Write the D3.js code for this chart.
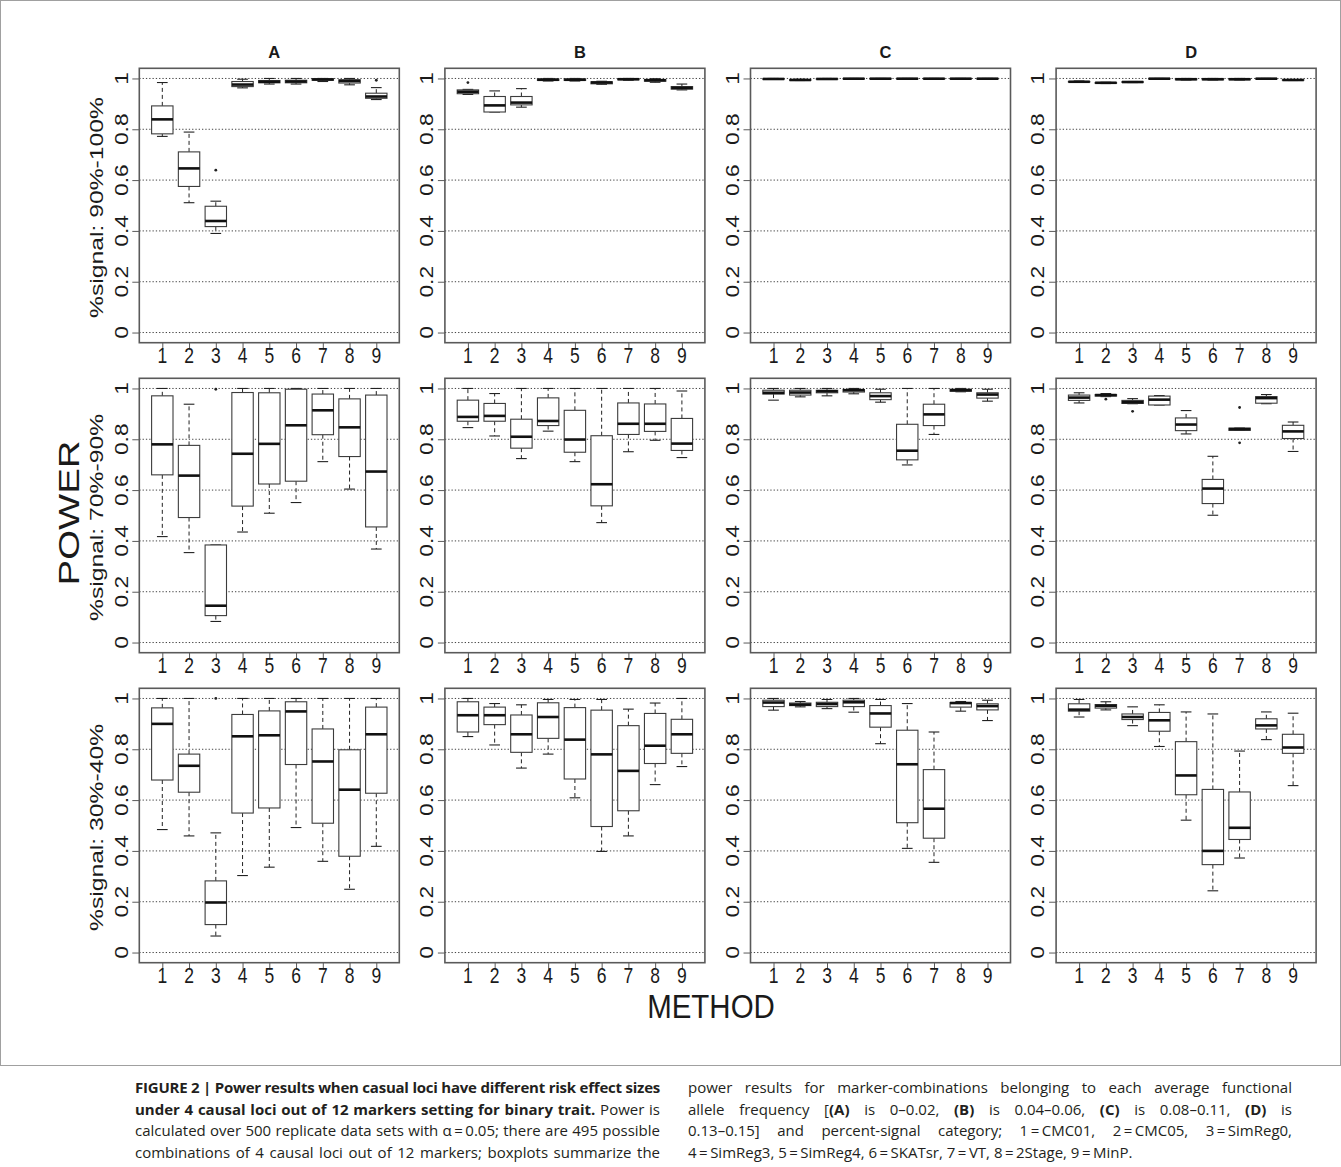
<!DOCTYPE html>
<html>
<head>
<meta charset="utf-8">
<script src="https://cdn.jsdelivr.net/npm/d3@7"></script>
<style>
  body { margin: 0; background: #fff; }
  svg { display: block; }
  text { font-family: "Liberation Sans", Arial, Helvetica, sans-serif; }
  text.cap { font-family: "Open Sans", "Liberation Sans", Arial, sans-serif; }
</style>
</head>
<body>
<svg id="fig" width="1341" height="1167"></svg>
<script>
// ---- data: five-number summaries [lower whisker, Q1, median, Q3, upper whisker] per method ----
const methods = [1, 2, 3, 4, 5, 6, 7, 8, 9];
const yTicks = [0, 0.2, 0.4, 0.6, 0.8, 1];
const yTickLabels = ["0", "0.2", "0.4", "0.6", "0.8", "1"];
const panelLetters = ["A", "B", "C", "D"];
const rowLabels = ["%signal: 90%-100%", "%signal: 70%-90%", "%signal: 30%-40%"];

// %signal 90%-100%
const sig90A = [
  [0.772, 0.782, 0.839, 0.892, 0.984],
  [0.511, 0.575, 0.646, 0.711, 0.789],
  [0.390, 0.417, 0.439, 0.497, 0.517],
  [0.963, 0.968, 0.976, 0.988, 0.997],
  [0.978, 0.983, 0.987, 0.992, 1.000],
  [0.978, 0.983, 0.988, 0.993, 1.000],
  [0.988, 0.993, 0.996, 0.999, 1.000],
  [0.975, 0.982, 0.990, 0.995, 1.000],
  [0.917, 0.922, 0.929, 0.942, 0.964]
];
const sig90B = [
  [0.937, 0.940, 0.948, 0.955, 0.957],
  [0.868, 0.868, 0.894, 0.929, 0.951],
  [0.887, 0.896, 0.905, 0.929, 0.960],
  [0.990, 0.992, 0.995, 0.998, 1.000],
  [0.990, 0.992, 0.995, 0.998, 1.000],
  [0.977, 0.979, 0.984, 0.987, 0.989],
  [0.993, 0.995, 0.997, 0.999, 1.000],
  [0.985, 0.989, 0.993, 0.996, 0.999],
  [0.955, 0.958, 0.963, 0.968, 0.978]
];
const sig90C = [
  [0.996, 0.997, 0.998, 0.999, 1.000],
  [0.992, 0.993, 0.994, 0.995, 0.997],
  [0.997, 0.998, 0.998, 0.999, 1.000],
  [0.998, 0.999, 0.999, 1.000, 1.000],
  [0.998, 0.999, 0.999, 1.000, 1.000],
  [0.997, 0.998, 0.999, 1.000, 1.000],
  [0.997, 0.998, 0.999, 1.000, 1.000],
  [0.998, 0.999, 0.999, 1.000, 1.000],
  [0.998, 0.999, 0.999, 1.000, 1.000]
];
const sig90D = [
  [0.985, 0.986, 0.987, 0.988, 0.990],
  [0.980, 0.981, 0.983, 0.984, 0.985],
  [0.984, 0.985, 0.986, 0.987, 0.988],
  [0.998, 0.999, 0.999, 1.000, 1.000],
  [0.994, 0.995, 0.997, 0.999, 1.000],
  [0.994, 0.995, 0.997, 0.999, 1.000],
  [0.994, 0.995, 0.997, 0.999, 1.000],
  [0.998, 0.999, 0.999, 1.000, 1.000],
  [0.992, 0.993, 0.994, 0.995, 0.996]
];

// %signal 70%-90%
const sig70A = [
  [0.417, 0.660, 0.780, 0.971, 1.000],
  [0.354, 0.492, 0.657, 0.776, 0.938],
  [0.083, 0.106, 0.145, 0.384, 0.384],
  [0.435, 0.537, 0.743, 0.984, 1.000],
  [0.509, 0.624, 0.782, 0.983, 1.000],
  [0.551, 0.635, 0.855, 0.997, 1.000],
  [0.712, 0.818, 0.914, 0.978, 1.000],
  [0.604, 0.732, 0.847, 0.959, 1.000],
  [0.368, 0.455, 0.673, 0.974, 1.000]
];
const sig70B = [
  [0.846, 0.871, 0.888, 0.954, 1.000],
  [0.813, 0.871, 0.892, 0.941, 0.980],
  [0.724, 0.765, 0.810, 0.879, 1.000],
  [0.832, 0.854, 0.872, 0.963, 1.000],
  [0.712, 0.749, 0.799, 0.914, 1.000],
  [0.472, 0.538, 0.623, 0.814, 1.000],
  [0.751, 0.819, 0.861, 0.943, 1.000],
  [0.796, 0.831, 0.861, 0.939, 1.000],
  [0.728, 0.756, 0.783, 0.882, 0.990]
];
const sig70C = [
  [0.954, 0.978, 0.983, 0.993, 1.000],
  [0.967, 0.974, 0.984, 0.993, 1.000],
  [0.971, 0.983, 0.989, 0.993, 1.000],
  [0.979, 0.986, 0.993, 0.996, 1.000],
  [0.946, 0.956, 0.970, 0.983, 0.997],
  [0.699, 0.719, 0.755, 0.859, 1.000],
  [0.819, 0.854, 0.898, 0.938, 1.000],
  [0.987, 0.989, 0.993, 0.997, 1.000],
  [0.950, 0.962, 0.976, 0.983, 0.997]
];
const sig70D = [
  [0.943, 0.953, 0.964, 0.974, 0.983],
  [0.968, 0.970, 0.974, 0.976, 0.980],
  [0.940, 0.941, 0.946, 0.953, 0.960],
  [0.935, 0.935, 0.956, 0.970, 0.972],
  [0.821, 0.834, 0.858, 0.884, 0.913],
  [0.501, 0.547, 0.606, 0.642, 0.733],
  [0.835, 0.835, 0.840, 0.844, 0.844],
  [0.940, 0.942, 0.962, 0.968, 0.976],
  [0.752, 0.803, 0.831, 0.855, 0.868]
];

// %signal 30%-40%
const sig30A = [
  [0.484, 0.679, 0.900, 0.963, 1.000],
  [0.459, 0.631, 0.735, 0.781, 1.000],
  [0.065, 0.110, 0.197, 0.282, 0.471],
  [0.303, 0.549, 0.851, 0.937, 1.000],
  [0.336, 0.569, 0.855, 0.951, 1.000],
  [0.492, 0.740, 0.949, 0.987, 1.000],
  [0.359, 0.509, 0.752, 0.880, 1.000],
  [0.249, 0.379, 0.641, 0.798, 1.000],
  [0.418, 0.627, 0.859, 0.966, 1.000]
];
const sig30B = [
  [0.850, 0.868, 0.934, 0.987, 1.000],
  [0.817, 0.897, 0.934, 0.966, 0.980],
  [0.726, 0.788, 0.859, 0.935, 0.975],
  [0.781, 0.843, 0.927, 0.983, 0.996],
  [0.609, 0.683, 0.838, 0.964, 0.996],
  [0.398, 0.496, 0.780, 0.954, 0.996],
  [0.459, 0.558, 0.715, 0.893, 0.958],
  [0.661, 0.744, 0.814, 0.941, 0.982],
  [0.732, 0.784, 0.859, 0.918, 1.000]
];
const sig30C = [
  [0.954, 0.968, 0.984, 0.993, 1.000],
  [0.967, 0.972, 0.976, 0.982, 0.988],
  [0.960, 0.968, 0.978, 0.985, 0.996],
  [0.946, 0.968, 0.985, 0.993, 1.000],
  [0.822, 0.887, 0.941, 0.972, 0.996],
  [0.410, 0.511, 0.741, 0.875, 0.980],
  [0.355, 0.450, 0.566, 0.720, 0.868],
  [0.950, 0.966, 0.982, 0.984, 0.988],
  [0.913, 0.955, 0.970, 0.979, 0.993]
];
const sig30D = [
  [0.927, 0.950, 0.956, 0.979, 0.996],
  [0.955, 0.962, 0.971, 0.976, 0.987],
  [0.893, 0.917, 0.927, 0.939, 0.967],
  [0.811, 0.871, 0.914, 0.945, 0.975],
  [0.521, 0.621, 0.697, 0.830, 0.947],
  [0.243, 0.346, 0.400, 0.642, 0.939],
  [0.372, 0.445, 0.491, 0.632, 0.793],
  [0.838, 0.880, 0.894, 0.920, 0.947],
  [0.657, 0.784, 0.807, 0.859, 0.942]
];

// outlying points: [method, power]
const out90A = [[3, 0.639], [9, 0.993]];
const out90B = [[1, 0.984]];
const out70A = [[3, 0.997]];
const out70D = [[2, 0.958], [3, 0.910], [7, 0.925], [7, 0.786]];
const out30A = [[3, 1.0]];

const grid = [
  [sig90A, sig90B, sig90C, sig90D],
  [sig70A, sig70B, sig70C, sig70D],
  [sig30A, sig30B, sig30C, sig30D]
];
const outGrid = [
  [out90A, out90B, [], []],
  [out70A, [], [], out70D],
  [out30A, [], [], []]
];

// caption lines: runs of [text, bold]
const captionLeft = [
  [["FIGURE 2 | Power results when casual loci have different risk effect sizes", true]],
  [["under 4 causal loci out of 12 markers setting for binary trait.", true], [" Power is", false]],
  [["calculated over 500 replicate data sets with \u03b1\u2009=\u20090.05; there are 495 possible", false]],
  [["combinations of 4 causal loci out of 12 markers; boxplots summarize the", false]]
];
const captionRight = [
  [["power results for marker-combinations belonging to each average functional", false]],
  [["allele frequency [", false], ["(A)", true], [" is 0\u20130.02, ", false], ["(B)", true], [" is 0.04\u20130.06, ", false],
   ["(C)", true], [" is 0.08\u20130.11, ", false], ["(D)", true], [" is", false]],
  [["0.13\u20130.15] and percent-signal category; 1\u2009=\u2009CMC01, 2\u2009=\u2009CMC05, 3\u2009=\u2009SimReg0,", false]],
  [["4\u2009=\u2009SimReg3, 5\u2009=\u2009SimReg4, 6\u2009=\u2009SKATsr, 7\u2009=\u2009VT, 8\u2009=\u20092Stage, 9\u2009=\u2009MinP.", false]]
];

// ---- layout ----
const svg = d3.select("#fig");
const PW = 260, PH = 274.4;
const colLeft = c => 139.3 + c * 305.6;
const rowTop = r => 68.3 + r * 310;
const STRETCH = 1.3;          // plot lettering is taller than it is wide
const frameColor = "#5a5a5a";

svg.append("rect")
  .attr("x", 0.5).attr("y", 0.5).attr("width", 1340).attr("height", 1065)
  .attr("fill", "none").attr("stroke", "#a0a0a0").attr("stroke-width", 1);

function hText(g, x, y, str, size, opts = {}) {
  return g.append("text")
    .attr("transform", `translate(${x},${y}) scale(1,${opts.k ?? STRETCH})`)
    .attr("text-anchor", "middle").attr("dy", "0.36em")
    .attr("font-size", size).attr("font-weight", opts.bold ? "bold" : null)
    .attr("fill", opts.fill || "#1a1a1a")
    .text(str);
}
function vText(g, x, y, str, size, opts = {}) {
  return g.append("text")
    .attr("transform", `translate(${x},${y}) rotate(-90) scale(${opts.k ?? STRETCH},1)`)
    .attr("text-anchor", "middle").attr("dy", "0.36em")
    .attr("font-size", size)
    .attr("fill", opts.fill || "#1a1a1a")
    .text(str);
}

function drawPanel(r, c) {
  const left = colLeft(c), top = rowTop(r);
  const x = d3.scaleLinear().domain([0.14, 9.86]).range([left, left + PW]);
  const y = d3.scaleLinear().domain([-0.04, 1.04]).range([top + PH, top]);
  const g = svg.append("g");
  const stats = grid[r][c];
  const bw = 0.8, sw = 0.4;

  // dotted reference lines
  g.selectAll("line.grid").data(yTicks).join("line")
    .attr("x1", left).attr("x2", left + PW)
    .attr("y1", d => y(d)).attr("y2", d => y(d))
    .attr("stroke", "#444").attr("stroke-width", 1).attr("stroke-dasharray", "1.3,2");

  // y axis
  const yAxis = d3.axisLeft(y).tickValues(yTicks).tickSize(7).tickFormat(() => "");
  const ya = g.append("g").attr("transform", `translate(${left},0)`).call(yAxis);
  ya.select(".domain").remove();
  ya.selectAll("line").attr("stroke", frameColor);
  yTicks.forEach((t, i) => vText(g, left - 18, y(t), yTickLabels[i], 17.5));

  // x axis
  const xAxis = d3.axisBottom(x).tickValues(methods).tickSize(7).tickFormat(() => "");
  const xa = g.append("g").attr("transform", `translate(0,${top + PH})`).call(xAxis);
  xa.select(".domain").remove();
  xa.selectAll("line").attr("stroke", frameColor);
  methods.forEach(m => hText(g, x(m), top + PH + 12, String(m), 17.5, { k: 1.25 }));

  // boxes
  const box = g.selectAll("g.box").data(stats).join("g").attr("class", "box");
  box.each(function (s, i) {
    const b = d3.select(this);
    const m = methods[i];
    const [lw, q1, med, q3, uw] = s;
    const dash = "4,3";
    if (uw > q3) {
      b.append("line").attr("x1", x(m)).attr("x2", x(m)).attr("y1", y(q3)).attr("y2", y(uw))
        .attr("stroke", "#222").attr("stroke-width", 1).attr("stroke-dasharray", dash);
    }
    if (lw < q1) {
      b.append("line").attr("x1", x(m)).attr("x2", x(m)).attr("y1", y(q1)).attr("y2", y(lw))
        .attr("stroke", "#222").attr("stroke-width", 1).attr("stroke-dasharray", dash);
    }
    [lw, uw].forEach(v => {
      b.append("line").attr("x1", x(m - sw / 2)).attr("x2", x(m + sw / 2))
        .attr("y1", y(v)).attr("y2", y(v)).attr("stroke", "#222").attr("stroke-width", 1.1);
    });
    b.append("rect")
      .attr("x", x(m - bw / 2)).attr("width", x(m + bw / 2) - x(m - bw / 2))
      .attr("y", y(q3)).attr("height", Math.max(0.5, y(q1) - y(q3)))
      .attr("fill", "#fff").attr("stroke", "#3c3c3c").attr("stroke-width", 1.1);
    b.append("line").attr("x1", x(m - bw / 2)).attr("x2", x(m + bw / 2))
      .attr("y1", y(med)).attr("y2", y(med)).attr("stroke", "#111").attr("stroke-width", 2.6);
  });

  g.selectAll("circle.out").data(outGrid[r][c]).join("circle")
    .attr("cx", d => x(d[0])).attr("cy", d => y(d[1])).attr("r", 1.4).attr("fill", "#222");

  // frame
  g.append("rect").attr("x", left).attr("y", top).attr("width", PW).attr("height", PH)
    .attr("fill", "none").attr("stroke", frameColor).attr("stroke-width", 1.6);

  if (r === 0) hText(g, left + PW / 2 + 5, 52, panelLetters[c], 16.5, { bold: true, k: 1.05 });
  if (c === 0) vText(g, 96, top + PH / 2 + 2, rowLabels[r], 19);
}

for (let r = 0; r < 3; r++) for (let c = 0; c < 4; c++) drawPanel(r, c);

vText(svg, 68, 513, "POWER", 29.5);
hText(svg, 711, 1006, "METHOD", 29.5, { k: 1.15 });

// ---- caption (justified to column width) ----
function captionLine(x, yb, runs, target) {
  const t = svg.append("text").attr("class", "cap").attr("x", x).attr("y", yb)
    .attr("font-size", 15).attr("fill", "#231f20");
  runs.forEach(([s, bold]) => t.append("tspan").attr("font-weight", bold ? "bold" : null).text(s));
  if (target) {
    const str = runs.map(d => d[0]).join("");
    const w = t.node().getComputedTextLength();
    const spaces = str.split(" ").length - 1;
    if (target > w) {
      if (spaces > 0) t.attr("word-spacing", (target - w) / spaces);
    } else {
      t.attr("letter-spacing", (target - w) / str.length);
    }
  }
}
const capY = [1093, 1114.5, 1136, 1157.5];
captionLeft.forEach((runs, i) => captionLine(135, capY[i], runs, 660 - 135));
captionRight.forEach((runs, i) => captionLine(688, capY[i], runs, i < 3 ? 1292 - 688 : null));
</script>
</body>
</html>
